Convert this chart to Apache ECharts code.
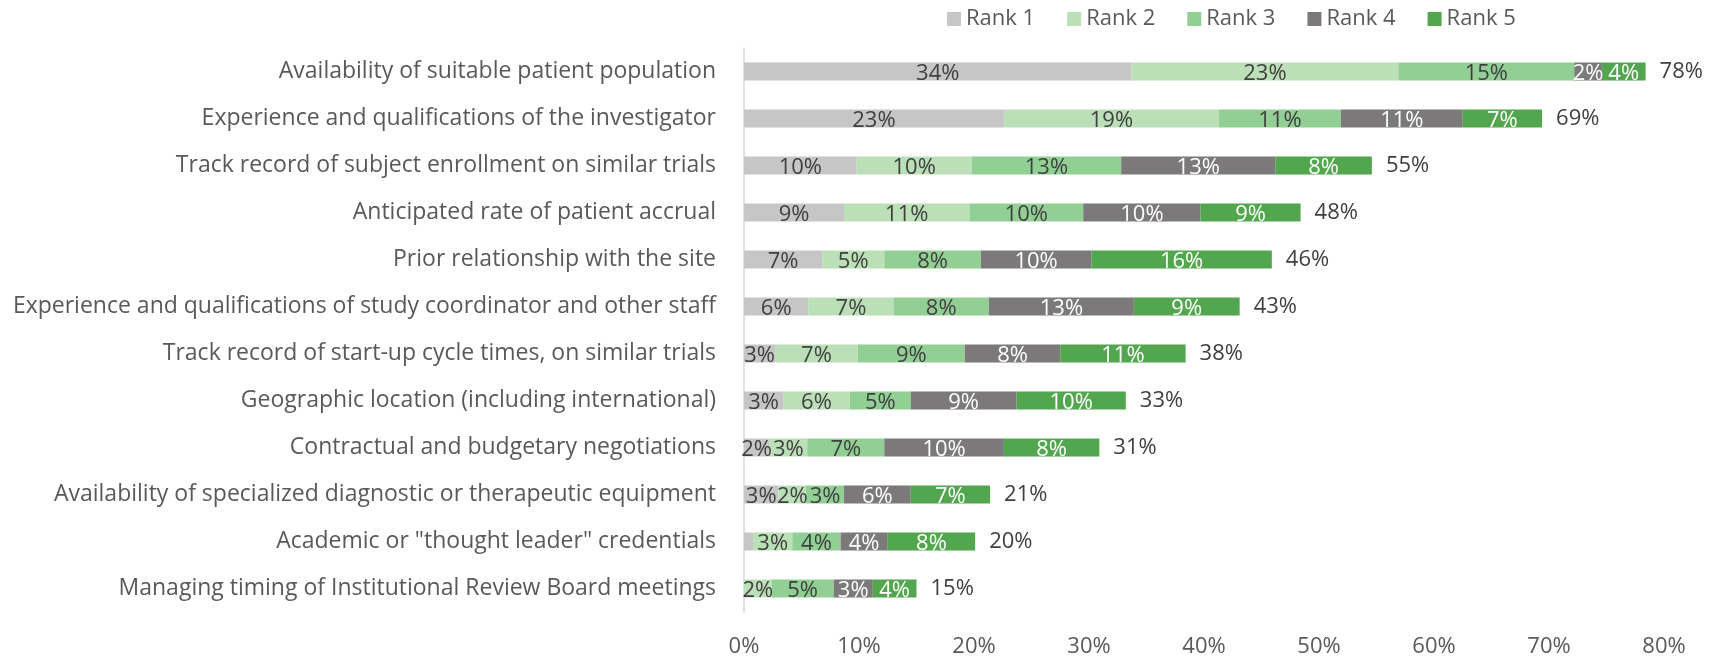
<!DOCTYPE html>
<html>
<head>
<meta charset="utf-8">
<script src="https://cdn.jsdelivr.net/npm/echarts@6/dist/echarts.min.js"></script>
<style>
  html, body { margin: 0; padding: 0; background: #fff; }
  #chart { width: 1725px; height: 659px; }
</style>
</head>
<body>
<div id="chart"></div>
<script>
// categories, top to bottom
const categories = [
  'Availability of suitable patient population',
  'Experience and qualifications of the investigator',
  'Track record of subject enrollment on similar trials',
  'Anticipated rate of patient accrual',
  'Prior relationship with the site',
  'Experience and qualifications of study coordinator and other staff',
  'Track record of start-up cycle times, on similar trials',
  'Geographic location (including international)',
  'Contractual and budgetary negotiations',
  'Availability of specialized diagnostic or therapeutic equipment',
  'Academic or "thought leader" credentials',
  'Managing timing of Institutional Review Board meetings'
];
const seriesNames = ['Rank 1', 'Rank 2', 'Rank 3', 'Rank 4', 'Rank 5'];
const rank1 = [33.7, 22.6, 9.8, 8.7, 6.8, 5.6, 2.7, 3.4, 2.2, 3.0, 0.8, 0];
const rank2 = [23.2, 18.7, 10.0, 10.9, 5.4, 7.4, 7.2, 5.8, 3.3, 2.4, 3.4, 2.4];
const rank3 = [15.3, 10.6, 13.0, 9.9, 8.4, 8.3, 9.3, 5.3, 6.7, 3.3, 4.2, 5.4];
const rank4 = [2.4, 10.6, 13.4, 10.2, 9.6, 12.6, 8.3, 9.2, 10.4, 5.8, 4.1, 3.4];
const rank5 = [3.8, 6.9, 8.4, 8.7, 15.7, 9.2, 10.9, 9.5, 8.3, 6.9, 7.6, 3.8];
const xTicks = [0, 10, 20, 30, 40, 50, 60, 70, 80];

const colors = ['#c6c6c6', '#bbe0b7', '#92cf94', '#7b7979', '#52a64e'];
const labelColors = ['#404040', '#404040', '#404040', '#ffffff', '#ffffff'];
const font = '"Open Sans", "Noto Sans", sans-serif';

const rankData = [rank1, rank2, rank3, rank4, rank5];
const totals = categories.map((c, i) => rankData.reduce((s, arr) => s + arr[i], 0));

const chart = echarts.init(document.getElementById('chart'));

const series = rankData.map((arr, k) => ({
  name: seriesNames[k],
  type: 'bar',
  stack: 'rank',
  barWidth: 18,
  data: arr,
  itemStyle: { color: colors[k] },
  label: {
    show: true,
    position: 'inside',
    offset: [0, 2],
    color: labelColors[k],
    fontFamily: font,
    fontSize: 22,
    formatter: p => p.value < 1 ? '' : Math.round(p.value) + '%'
  }
}));

series.push({
  name: 'Total',
  type: 'bar',
  barWidth: 18,
  barGap: '-100%',
  silent: true,
  z: 1,
  data: totals,
  itemStyle: { color: 'rgba(0,0,0,0)' },
  label: {
    show: true,
    position: 'right',
    distance: 14,
    color: '#404040',
    fontFamily: font,
    fontSize: 22,
    formatter: p => Math.round(p.value) + '%'
  }
});

const option = {
  animation: false,
  legend: {
    data: seriesNames,
    left: 942,
    top: 3,
    itemWidth: 14,
    itemHeight: 14,
    itemGap: 32,
    icon: 'rect',
    textStyle: { color: '#595959', fontFamily: font, fontSize: 22 }
  },
  grid: { left: 744, right: 61, top: 48, bottom: 47, containLabel: false },
  xAxis: {
    type: 'value',
    min: xTicks[0],
    max: xTicks[xTicks.length - 1],
    interval: 10,
    axisLine: { show: false },
    axisTick: { show: false },
    splitLine: { show: false },
    axisLabel: {
      margin: 24,
      color: '#595959',
      fontFamily: font,
      fontSize: 22,
      formatter: v => v + '%'
    }
  },
  yAxis: {
    type: 'category',
    inverse: true,
    data: categories,
    axisLine: { show: true, lineStyle: { color: '#d9d9d9', width: 1.5 } },
    axisTick: { show: false },
    axisLabel: {
      margin: 28,
      color: '#595959',
      fontFamily: font,
      fontSize: 23
    }
  },
  series: series
};

chart.setOption(option);
window.addEventListener('resize', () => chart.resize());
</script>
</body>
</html>
